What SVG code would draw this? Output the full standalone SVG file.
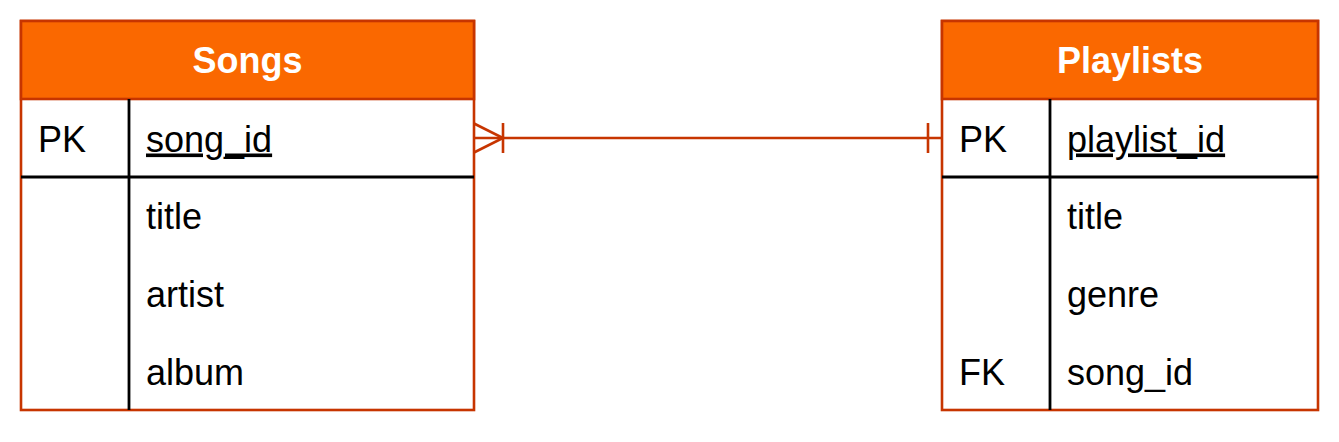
<svg xmlns="http://www.w3.org/2000/svg" width="1339" height="442" viewBox="0 0 1339 442">
<style>
.box{fill:#ffffff;stroke:#C73500;stroke-width:2.6}
.hdr{fill:#FA6800;stroke:#C73500;stroke-width:2.6}
.div{stroke:#000000;stroke-width:2.8;fill:none}
.ht{font-family:"Liberation Sans",Arial,sans-serif;font-size:36px;font-weight:bold;fill:#ffffff;text-anchor:middle}
.t{font-family:"Liberation Sans",Arial,sans-serif;font-size:36px;fill:#000000}
.u{text-decoration:underline}
.conn{stroke:#C73500;stroke-width:2.6;fill:none}
</style>
<g id="songs">
<rect class="box" x="21" y="21" width="453" height="389"/>
<rect class="hdr" x="21" y="21" width="453" height="78"/>
<text class="ht" x="247.5" y="73">Songs</text>
<line class="div" x1="21" y1="177" x2="474" y2="177"/>
<line class="div" x1="129" y1="99" x2="129" y2="410"/>
<text class="t" x="38" y="151.5">PK</text>
<text class="t u" x="146" y="151.5">song_id</text>
<text class="t" x="146" y="229">title</text>
<text class="t" x="146" y="307">artist</text>
<text class="t" x="146" y="385">album</text>
</g>
<g id="playlists">
<rect class="box" x="942" y="21" width="376" height="389"/>
<rect class="hdr" x="942" y="21" width="376" height="78"/>
<text class="ht" x="1130" y="73">Playlists</text>
<line class="div" x1="942" y1="177" x2="1318" y2="177"/>
<line class="div" x1="1050" y1="99" x2="1050" y2="410"/>
<text class="t" x="959" y="151.5">PK</text>
<text class="t u" x="1067" y="151.5">playlist_id</text>
<text class="t" x="1067" y="229">title</text>
<text class="t" x="1067" y="307">genre</text>
<text class="t" x="959" y="385">FK</text>
<text class="t" x="1067" y="385">song_id</text>
</g>
<g id="connectors">
<line class="conn" x1="474" y1="138" x2="942" y2="138"/>
<polyline class="conn" points="474,123.5 503,138 474,152.5"/>
<line class="conn" x1="503" y1="123" x2="503" y2="153"/>
<line class="conn" x1="928" y1="123" x2="928" y2="153"/>
</g>
</svg>
